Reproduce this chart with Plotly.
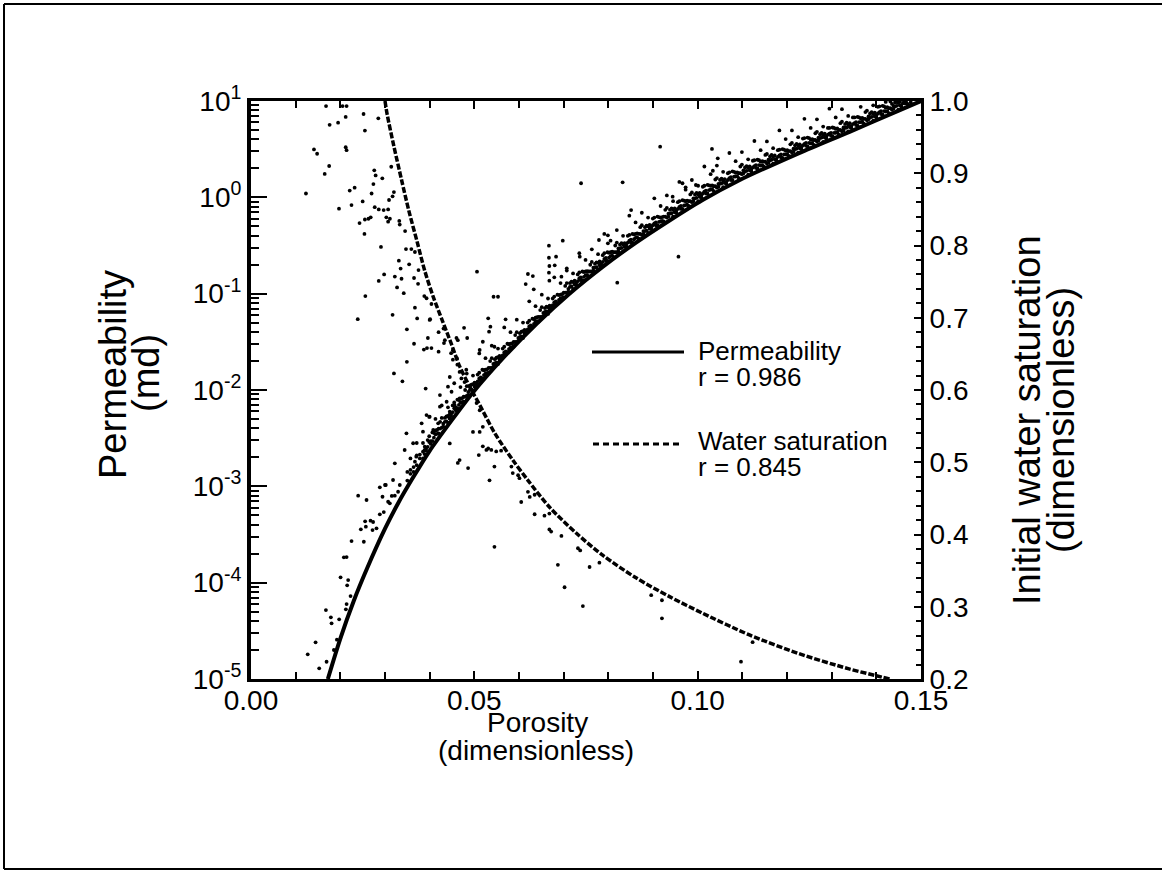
import numpy as np
import plotly.graph_objects as go

# ---------------------------------------------------------------
# Fitted curves
# ---------------------------------------------------------------
perm_fit_phi = [0.0172, 0.0200, 0.0230, 0.0260, 0.0300, 0.0330, 0.0360, 0.0400, 0.0450,
                0.0496, 0.0564, 0.0640, 0.0713, 0.0788, 0.0862, 0.0937, 0.1010, 0.1090,
                0.1227, 0.1340, 0.1450, 0.1500]
perm_fit_k = [1.0e-5, 2.63e-5, 6.46e-5, 1.41e-4, 3.63e-4, 6.76e-4, 1.175e-3, 2.34e-3,
              4.90e-3, 9.33e-3, 0.0214, 0.0490, 0.100, 0.191, 0.339, 0.575, 0.933,
              1.48, 2.88, 4.79, 7.94, 10.0]

sw_fit_phi = [0.0300, 0.0305, 0.0320, 0.0337, 0.0353, 0.0372, 0.0389, 0.0408, 0.0429,
              0.0449, 0.0467, 0.0496, 0.0508, 0.0546, 0.0586, 0.0620, 0.0668, 0.0728,
              0.0788, 0.0862, 0.0937, 0.1011, 0.1116, 0.1227, 0.1339, 0.1400, 0.1430]
sw_fit = [1.000, 0.981, 0.937, 0.891, 0.849, 0.805, 0.765, 0.729, 0.695,
          0.663, 0.633, 0.597, 0.584, 0.540, 0.503, 0.475, 0.438, 0.402,
          0.371, 0.340, 0.314, 0.291, 0.261, 0.235, 0.214, 0.2045, 0.200]

# ---------------------------------------------------------------
# Permeability samples (log10 of md): dense band above the fit
# ---------------------------------------------------------------
band_phi = [0.0350, 0.0357, 0.0364, 0.0371, 0.0378, 0.0385, 0.0392, 0.0399, 0.0406, 0.0413,
            0.0420, 0.0427, 0.0434, 0.0441, 0.0448, 0.0455, 0.0462, 0.0469, 0.0476, 0.0483,
            0.0490, 0.0497, 0.0504, 0.0511, 0.0518, 0.0525, 0.0532, 0.0539, 0.0546, 0.0553,
            0.0560, 0.0567, 0.0574, 0.0581, 0.0588, 0.0595, 0.0602, 0.0609, 0.0616, 0.0623,
            0.0630, 0.0637, 0.0644, 0.0651, 0.0658, 0.0665, 0.0672, 0.0679, 0.0686, 0.0693,
            0.0700, 0.0707, 0.0714, 0.0721, 0.0728, 0.0735, 0.0742, 0.0749, 0.0756, 0.0763,
            0.0770, 0.0777, 0.0784, 0.0791, 0.0798, 0.0805, 0.0812, 0.0819, 0.0826, 0.0833,
            0.0840, 0.0847, 0.0854, 0.0861, 0.0868, 0.0875, 0.0882, 0.0889, 0.0896, 0.0903,
            0.0910, 0.0917, 0.0924, 0.0931, 0.0938, 0.0945, 0.0952, 0.0959, 0.0966, 0.0973,
            0.0980, 0.0987, 0.0994, 0.1001, 0.1008, 0.1015, 0.1022, 0.1029, 0.1036, 0.1043,
            0.1050, 0.1057, 0.1064, 0.1071, 0.1078, 0.1085, 0.1092, 0.1099, 0.1106, 0.1113,
            0.1120, 0.1127, 0.1134, 0.1141, 0.1148, 0.1155, 0.1162, 0.1169, 0.1176, 0.1183,
            0.1190, 0.1197, 0.1204, 0.1211, 0.1218, 0.1225, 0.1232, 0.1239, 0.1246, 0.1253,
            0.1260, 0.1267, 0.1274, 0.1281, 0.1288, 0.1295, 0.1302, 0.1309, 0.1316, 0.1323,
            0.1330, 0.1337, 0.1344, 0.1351, 0.1358, 0.1365, 0.1372, 0.1379, 0.1386, 0.1393,
            0.1400, 0.1407, 0.1414, 0.1421, 0.1428, 0.1435, 0.1442, 0.1449, 0.1456, 0.1463,
            0.1470, 0.1477]
band_log10k = [
    [-2.94, -2.85], [-2.87, -2.83, -2.71], [-2.85, -2.80], [-2.78, -2.68, -2.55],
    [-2.71, -2.67], [-2.71, -2.64, -2.55], [-2.63, -2.61], [-2.54, -2.48, -2.28],
    [-2.53, -2.44], [-2.46, -2.42, -2.30], [-2.45, -2.40], [-2.39, -2.29, -2.16],
    [-2.33, -2.29], [-2.34, -2.27, -2.18], [-2.27, -2.25], [-2.19, -2.13, -1.93],
    [-2.19, -2.10], [-2.13, -2.09, -1.97], [-2.12, -2.07], [-2.06, -1.96, -1.83],
    [-2.00, -1.96], [-2.01, -1.94, -1.85], [-1.95, -1.93], [-1.88, -1.82, -1.62],
    [-1.88, -1.79], [-1.83, -1.79, -1.67], [-1.82, -1.77], [-1.77, -1.67, -1.54],
    [-1.72, -1.68], [-1.73, -1.66, -1.57], [-1.68, -1.66], [-1.61, -1.55, -1.35],
    [-1.61, -1.52], [-1.56, -1.52, -1.40], [-1.55, -1.50], [-1.50, -1.40, -1.27],
    [-1.45, -1.41], [-1.46, -1.39, -1.30], [-1.41, -1.39], [-1.34, -1.28, -1.08],
    [-1.35, -1.26], [-1.29, -1.25, -1.13], [-1.29, -1.24], [-1.24, -1.14, -1.01],
    [-1.19, -1.15], [-1.21, -1.14, -1.05], [-1.16, -1.14], [-1.09, -1.03, -0.83],
    [-1.10, -1.01], [-1.05, -1.01, -0.89], [-1.04, -0.99], [-0.99, -0.89, -0.76],
    [-0.93, -0.89], [-0.95, -0.88, -0.79], [-0.91, -0.89], [-0.84, -0.78, -0.58],
    [-0.86, -0.77], [-0.81, -0.77, -0.65], [-0.82, -0.77], [-0.77, -0.67, -0.54],
    [-0.73, -0.69], [-0.75, -0.68, -0.59], [-0.71, -0.69], [-0.64, -0.58, -0.38],
    [-0.66, -0.57], [-0.61, -0.57, -0.45], [-0.62, -0.57], [-0.57, -0.47, -0.34],
    [-0.53, -0.49], [-0.56, -0.49, -0.40], [-0.51, -0.49], [-0.45, -0.39, -0.19],
    [-0.47, -0.38], [-0.42, -0.38, -0.26], [-0.43, -0.38], [-0.39, -0.29, -0.16],
    [-0.35, -0.31], [-0.37, -0.30, -0.21], [-0.33, -0.31], [-0.27, -0.21, -0.01],
    [-0.29, -0.20], [-0.25, -0.21, -0.09], [-0.25, -0.20], [-0.21, -0.11, 0.02],
    [-0.17, -0.13], [-0.20, -0.13, -0.04], [-0.16, -0.14], [-0.10, -0.04, 0.16],
    [-0.12, -0.03], [-0.08, -0.04, 0.08], [-0.09, -0.04], [-0.05, 0.05, 0.18],
    [-0.01, 0.03], [-0.04, 0.03, 0.12], [0.00, 0.02], [0.06, 0.12, 0.32],
    [0.04, 0.13], [0.08, 0.12, 0.24], [0.065, 0.115], [0.10, 0.20, 0.33],
    [0.14, 0.18], [0.105, 0.175, 0.265], [0.14, 0.16], [0.20, 0.26, 0.46],
    [0.18, 0.27], [0.215, 0.255, 0.375], [0.20, 0.25], [0.24, 0.34, 0.47],
    [0.27, 0.31], [0.235, 0.305, 0.395], [0.27, 0.29], [0.325, 0.385, 0.585],
    [0.30, 0.39], [0.33, 0.37, 0.49], [0.32, 0.37], [0.35, 0.45, 0.58],
    [0.385, 0.425], [0.35, 0.42, 0.51], [0.38, 0.40], [0.435, 0.495, 0.695],
    [0.41, 0.50], [0.445, 0.485, 0.605], [0.43, 0.48], [0.465, 0.565, 0.695],
    [0.50, 0.54], [0.465, 0.535, 0.625], [0.50, 0.52], [0.555, 0.615, 0.815],
    [0.53, 0.62], [0.56, 0.60, 0.72], [0.545, 0.595], [0.58, 0.68, 0.81],
    [0.615, 0.655], [0.575, 0.645, 0.735], [0.61, 0.63], [0.66, 0.72, 0.92],
    [0.635, 0.725], [0.67, 0.71, 0.83], [0.65, 0.70], [0.685, 0.785, 0.915],
    [0.72, 0.76], [0.685, 0.755, 0.845], [0.72, 0.74], [0.77, 0.83],
    [0.745, 0.835], [0.78, 0.82, 0.94], [0.765, 0.815], [0.80, 0.90],
    [0.83, 0.87], [0.795, 0.865, 0.955], [0.83, 0.85], [0.885, 0.945],
    [0.86, 0.95], [0.89, 0.93, 0.99], [0.875, 0.925], [0.91, 0.97],
    [0.945, 0.985], [0.91, 0.98], [0.94, 0.96], [0.975, 0.995],
    [0.97], [0.985],
]

# second, offset set of band columns (fills the ribbon between the first set)
band2_phi = [0.03885, 0.03955, 0.04025, 0.04095, 0.04165, 0.04235, 0.04305, 0.04375,
             0.04445, 0.04515, 0.04585, 0.04655, 0.04725, 0.04795, 0.04865, 0.04935,
             0.05005, 0.05075, 0.05145, 0.05215, 0.05285, 0.05355, 0.05425, 0.05495,
             0.05565, 0.05635, 0.05705, 0.05775, 0.05845, 0.05915, 0.05985, 0.06055,
             0.06125, 0.06195, 0.06265, 0.06335, 0.06405, 0.06475, 0.06545, 0.06615,
             0.06685, 0.06755, 0.06825, 0.06895, 0.06965, 0.07035, 0.07105, 0.07175,
             0.07245, 0.07315, 0.07385, 0.07455, 0.07525, 0.07595, 0.07665, 0.07735,
             0.07805, 0.07875, 0.07945, 0.08015, 0.08085, 0.08155, 0.08225, 0.08295,
             0.08365, 0.08435, 0.08505, 0.08575, 0.08645, 0.08715, 0.08785, 0.08855,
             0.08925, 0.08995, 0.09065, 0.09135, 0.09205, 0.09275, 0.09345, 0.09415,
             0.09485, 0.09555, 0.09625, 0.09695, 0.09765, 0.09835, 0.09905, 0.09975,
             0.10045, 0.10115, 0.10185, 0.10255, 0.10325, 0.10395, 0.10465, 0.10535,
             0.10605, 0.10675, 0.10745, 0.10815, 0.10885, 0.10955, 0.11025, 0.11095,
             0.11165, 0.11235, 0.11305, 0.11375, 0.11445, 0.11515, 0.11585, 0.11655,
             0.11725, 0.11795, 0.11865, 0.11935, 0.12005, 0.12075, 0.12145, 0.12215,
             0.12285, 0.12355, 0.12425, 0.12495, 0.12565, 0.12635, 0.12705, 0.12775,
             0.12845, 0.12915, 0.12985, 0.13055, 0.13125, 0.13195, 0.13265, 0.13335,
             0.13405, 0.13475, 0.13545, 0.13615, 0.13685, 0.13755, 0.13825, 0.13895,
             0.13965, 0.14035, 0.14105, 0.14175, 0.14245, 0.14315, 0.14385, 0.14455,
             0.14525, 0.14595, 0.14665]
band2_log10k = [
    [-2.665, -2.625], [-2.59, -2.52], [-2.56, -2.53], [-2.495, -2.445],
    [-2.455, -2.415], [-2.40, -2.33], [-2.38, -2.35], [-2.325, -2.275],
    [-2.295, -2.255], [-2.23, -2.16], [-2.21, -2.18], [-2.155, -2.105],
    [-2.125, -2.085], [-2.07, -2.00], [-2.05, -2.02], [-1.995, -1.945],
    [-1.965, -1.925], [-1.91, -1.84], [-1.90, -1.87], [-1.845, -1.795],
    [-1.825, -1.785], [-1.77, -1.70], [-1.76, -1.73], [-1.715, -1.665],
    [-1.685, -1.645], [-1.64, -1.57], [-1.63, -1.60], [-1.575, -1.525],
    [-1.555, -1.515], [-1.50, -1.43], [-1.49, -1.46], [-1.445, -1.395],
    [-1.415, -1.375], [-1.37, -1.30], [-1.36, -1.33], [-1.315, -1.265],
    [-1.285, -1.245], [-1.24, -1.17], [-1.23, -1.20], [-1.185, -1.135],
    [-1.165, -1.125], [-1.12, -1.05], [-1.11, -1.08], [-1.065, -1.015],
    [-1.045, -1.005], [-0.99, -0.92], [-0.98, -0.95], [-0.925, -0.875],
    [-0.905, -0.865], [-0.87, -0.80], [-0.86, -0.83], [-0.825, -0.775],
    [-0.805, -0.765], [-0.77, -0.70], [-0.76, -0.73], [-0.725, -0.675],
    [-0.705, -0.665], [-0.67, -0.60], [-0.66, -0.63], [-0.625, -0.575],
    [-0.605, -0.565], [-0.57, -0.50], [-0.56, -0.53], [-0.525, -0.475],
    [-0.515, -0.475], [-0.47, -0.40], [-0.47, -0.44], [-0.435, -0.385],
    [-0.415, -0.375], [-0.38, -0.31], [-0.38, -0.35], [-0.345, -0.295],
    [-0.325, -0.285], [-0.29, -0.22], [-0.29, -0.26], [-0.255, -0.205],
    [-0.245, -0.205], [-0.20, -0.13], [-0.20, -0.17], [-0.165, -0.115],
    [-0.155, -0.115], [-0.12, -0.05], [-0.12, -0.09], [-0.085, -0.035],
    [-0.075, -0.035], [-0.04, 0.03], [-0.04, -0.01], [-0.005, 0.045],
    [0.005, 0.045], [0.04, 0.11], [0.04, 0.07], [0.075, 0.125],
    [0.085, 0.125], [0.115, 0.185], [0.11, 0.14], [0.145, 0.195],
    [0.15, 0.19], [0.18, 0.25], [0.18, 0.21], [0.215, 0.265],
    [0.22, 0.26], [0.25, 0.32], [0.25, 0.28], [0.275, 0.325],
    [0.28, 0.32], [0.31, 0.38], [0.305, 0.335], [0.335, 0.385],
    [0.335, 0.375], [0.37, 0.44], [0.36, 0.39], [0.39, 0.44],
    [0.395, 0.435], [0.42, 0.49], [0.415, 0.445], [0.445, 0.495],
    [0.45, 0.49], [0.48, 0.55], [0.475, 0.505], [0.505, 0.555],
    [0.51, 0.55], [0.54, 0.61], [0.535, 0.565], [0.565, 0.615],
    [0.565, 0.605], [0.595, 0.665], [0.59, 0.62], [0.62, 0.67],
    [0.62, 0.66], [0.65, 0.72], [0.64, 0.67], [0.67, 0.72],
    [0.675, 0.715], [0.70, 0.77], [0.695, 0.725], [0.725, 0.775],
    [0.73, 0.77], [0.76, 0.83], [0.75, 0.78], [0.78, 0.83],
    [0.785, 0.825], [0.815, 0.885], [0.81, 0.84], [0.835, 0.885],
    [0.84, 0.88], [0.87, 0.94], [0.865, 0.895], [0.895, 0.945],
    [0.895, 0.935], [0.925, 0.995], [0.92, 0.95], [0.95, 0.99],
    [0.955, 0.995], [0.98], [0.975, 0.99],
]

# Permeability samples away from the band (low porosity and outliers)
perm_phi_extra = [0.0127, 0.01446, 0.01527, 0.01692, 0.01677, 0.01788, 0.01804, 0.01974,
                  0.01923, 0.01856, 0.02005, 0.02175, 0.02153, 0.02229, 0.0214, 0.02124,
                  0.02079, 0.0214, 0.02251, 0.02399, 0.02587, 0.02526, 0.02459, 0.02555,
                  0.02676, 0.02734, 0.02571, 0.02721, 0.0281, 0.02884, 0.02973, 0.02884,
                  0.03018, 0.02944, 0.03152, 0.0307, 0.03108, 0.03331, 0.03293, 0.03219,
                  0.0300, 0.0318, 0.0322, 0.0344, 0.0348, 0.0363, 0.0367, 0.0370, 0.0382,
                  0.0385, 0.0393, 0.0400, 0.0389, 0.0408, 0.0419, 0.0423, 0.0438, 0.0445,
                  0.0449, 0.0441, 0.0456, 0.0467, 0.0512, 0.0545,
                  0.0916, 0.0739, 0.0832, 0.0851, 0.1032, 0.1045, 0.1034, 0.0506, 0.0543,
                  0.0553, 0.0667, 0.0698, 0.0667, 0.0683, 0.0620, 0.0631, 0.0615, 0.0633,
                  0.0668, 0.0680, 0.0667, 0.0668, 0.0779, 0.0799, 0.0799, 0.0957, 0.0820,
                  0.0531, 0.0536, 0.0533, 0.0570, 0.0519, 0.0707, 0.0695, 0.0736, 0.0966,
                  0.0973, 0.0996, 0.0944]
perm_log10k_extra = [-4.744, -4.619, -4.889, -4.821, -4.284, -4.36, -4.422, -4.381,
                     -4.592, -4.699, -3.945, -3.973, -4.028, -4.139, -4.222, -4.277,
                     -3.737, -3.734, -3.568, -3.097, -3.142, -3.575, -3.446, -3.363,
                     -3.357, -3.37, -3.419, -3.454, -3.436, -3.291, -3.267, -3.01,
                     -2.986, -3.108, -3.1, -3.16, -3.176, -2.986, -3.056, -3.097,
                     -2.986, -2.934, -2.761, -2.623, -2.450, -2.553, -2.744, -2.692, -2.346,
                     -2.433, -2.260, -2.277, -2.589, -2.415, -2.346, -2.173, -2.122, -2.225,
                     -2.018, -1.966, -2.156, -2.086, -1.585, -1.551,
                     0.526, 0.146, 0.156, -0.132, 0.502, 0.405, 0.276, -0.772, -1.032,
                     -1.032, -0.502, -0.450, -0.627, -0.616, -0.796, -0.817, -0.900, -0.955,
                     -0.713, -0.706, -0.782, -0.865, -0.443, -0.394, -0.477, -0.616, -0.886,
                     -1.256, -1.343, -1.395, -1.266, -1.499, -0.737, -0.824, -0.616, 0.146,
                     0.104, 0.128, 0.007]

# ---------------------------------------------------------------
# Initial water saturation samples
# ---------------------------------------------------------------
sw_phi = [0.0168, 0.0205, 0.0214, 0.0212, 0.0176, 0.0195, 0.0252, 0.0285, 0.0255, 0.0141,
          0.0148, 0.0212, 0.0214, 0.0175, 0.0165, 0.0314, 0.0276, 0.0279, 0.0294, 0.0274,
          0.0221, 0.0232, 0.0123, 0.0270, 0.0320, 0.0317, 0.0309, 0.0250, 0.0225, 0.0197,
          0.0277, 0.0286, 0.0297, 0.0307, 0.0243, 0.0255, 0.0263, 0.0268, 0.0303, 0.0311,
          0.0307, 0.0332, 0.0333, 0.0254, 0.0345, 0.0291, 0.0347, 0.0359, 0.0367, 0.0331,
          0.0335, 0.0354, 0.0375, 0.0298, 0.0286, 0.0322, 0.0337, 0.0365, 0.0374, 0.0327,
          0.0342, 0.0256, 0.0388, 0.0393, 0.0404, 0.0367, 0.0372, 0.0317, 0.0239, 0.0349,
          0.0401, 0.0420, 0.0431, 0.0460, 0.0484, 0.0477, 0.0365, 0.0387, 0.0394, 0.0404,
          0.0420, 0.0432, 0.0448, 0.0452, 0.0461, 0.0349, 0.0320, 0.0339, 0.0391, 0.0445,
          0.0467, 0.0423, 0.0462, 0.0471, 0.0482, 0.0478, 0.0434, 0.0452, 0.0463, 0.0400,
          0.0396,
          0.0505, 0.0512, 0.0497, 0.0512, 0.0519, 0.0527, 0.0534, 0.0467, 0.0463, 0.0486,
          0.0445, 0.0545, 0.0519, 0.0531, 0.0538, 0.0549, 0.0560, 0.0510, 0.0583, 0.0586,
          0.0598, 0.0601, 0.0620, 0.0624, 0.0635, 0.0605, 0.0635, 0.0657, 0.0668, 0.0668,
          0.0672, 0.0695, 0.0545, 0.0732, 0.0737, 0.0687, 0.0702, 0.0758, 0.0780, 0.0743,
          0.0896, 0.0920, 0.0920, 0.1123, 0.1097]
sw_val = [0.993, 0.993, 0.993, 0.978, 0.967, 0.970, 0.982, 0.976, 0.959, 0.933,
          0.927, 0.936, 0.932, 0.910, 0.899, 0.909, 0.904, 0.897, 0.893, 0.885,
          0.876, 0.880, 0.872, 0.872, 0.874, 0.868, 0.863, 0.861, 0.856, 0.851,
          0.853, 0.850, 0.849, 0.850, 0.831, 0.836, 0.837, 0.839, 0.839, 0.837,
          0.833, 0.834, 0.829, 0.816, 0.820, 0.798, 0.795, 0.795, 0.791, 0.779,
          0.768, 0.774, 0.766, 0.760, 0.751, 0.757, 0.754, 0.755, 0.747, 0.742,
          0.734, 0.730, 0.730, 0.727, 0.719, 0.714, 0.699, 0.704, 0.698, 0.684,
          0.698, 0.680, 0.685, 0.672, 0.672, 0.686, 0.664, 0.656, 0.658, 0.658,
          0.653, 0.665, 0.651, 0.642, 0.644, 0.639, 0.623, 0.612, 0.602, 0.618,
          0.625, 0.593, 0.635, 0.616, 0.628, 0.611, 0.669, 0.655, 0.669, 0.697,
          0.672,
          0.582, 0.572, 0.542, 0.542, 0.522, 0.517, 0.475, 0.503, 0.499, 0.492,
          0.526, 0.494, 0.549, 0.519, 0.517, 0.515, 0.516, 0.510, 0.494, 0.485,
          0.482, 0.478, 0.459, 0.452, 0.455, 0.445, 0.428, 0.426, 0.429, 0.407,
          0.404, 0.398, 0.383, 0.381, 0.378, 0.358, 0.327, 0.355, 0.361, 0.301,
          0.316, 0.309, 0.284, 0.251, 0.224]

# ---------------------------------------------------------------
# Axis tick labels
# ---------------------------------------------------------------
phi_tick_vals = [0.0, 0.05, 0.10, 0.15]
phi_tick_text = ["0.00", "0.05", "0.10", "0.15"]
k_tick_vals = [1e-5, 1e-4, 1e-3, 1e-2, 1e-1, 1e0, 1e1]
k_tick_text = ["10<sup>-5</sup>", "10<sup>-4</sup>", "10<sup>-3</sup>", "10<sup>-2</sup>",
               "10<sup>-1</sup>", "10<sup>0</sup>", "10<sup>1</sup>"]
sw_tick_vals = [0.2, 0.3, 0.4, 0.5, 0.6, 0.7, 0.8, 0.9, 1.0]
sw_tick_text = ["0.2", "0.3", "0.4", "0.5", "0.6", "0.7", "0.8", "0.9", "1.0"]

# flatten the band columns into one sample list
perm_phi = []
perm_k = []
for cols_phi, cols_val in ((band_phi, band_log10k), (band2_phi, band2_log10k)):
    for p, col in zip(cols_phi, cols_val):
        for v in col:
            perm_phi.append(p)
            perm_k.append(10 ** v)
perm_phi += perm_phi_extra
perm_k += [10 ** v for v in perm_log10k_extra]

FONT = "Liberation Sans"
INK = "black"

fig = go.Figure()

fig.add_trace(go.Scatter(x=perm_phi, y=perm_k, mode="markers",
                         marker=dict(size=3.8, color=INK), yaxis="y",
                         showlegend=False, hoverinfo="skip"))
fig.add_trace(go.Scatter(x=sw_phi, y=sw_val, mode="markers",
                         marker=dict(size=3.8, color=INK), yaxis="y2",
                         showlegend=False, hoverinfo="skip"))
fig.add_trace(go.Scatter(x=perm_fit_phi, y=perm_fit_k, mode="lines",
                         line=dict(color=INK, width=4, shape="spline", smoothing=0.8),
                         yaxis="y", showlegend=False, hoverinfo="skip"))
fig.add_trace(go.Scatter(x=sw_fit_phi, y=sw_fit, mode="lines",
                         line=dict(color=INK, width=3.5, dash="6px,2px",
                                   shape="spline", smoothing=0.8),
                         yaxis="y2", showlegend=False, hoverinfo="skip"))

W, H = 1162, 871
L, R, T, B = 251, 241, 101, 192
PW, PH = W - L - R, H - T - B


def px(xp):
    return (xp - L) / PW


def py(yp):
    return (H - B - yp) / PH


annotations = []


def label(text, xp, yp, size, xanchor="center", angle=0):
    annotations.append(dict(text=text, x=px(xp), y=py(yp), xref="paper", yref="paper",
                            xanchor=xanchor, yanchor="middle", showarrow=False,
                            textangle=angle, font=dict(family=FONT, size=size, color=INK)))


# axis titles
label("Porosity", 537, 722, 28)
label("(dimensionless)", 536, 750, 28)
label("Permeability", 113, 375, 38, angle=-90)
label("(md)", 146, 373, 38, angle=-90)
label("Initial water saturation", 1027, 420, 38, angle=-90)
label("(dimensionless)", 1061, 420, 38, angle=-90)

# legend text
label("Permeability", 696, 351, 26, xanchor="left")
label("r = 0.986", 696, 377, 26, xanchor="left")
label("Water saturation", 696, 441, 26, xanchor="left")
label("r = 0.845", 696, 467, 26, xanchor="left")

shapes = [
    # legend keys
    dict(type="line", xref="paper", yref="paper", x0=px(592), x1=px(684),
         y0=py(352), y1=py(352), line=dict(color=INK, width=3)),
    dict(type="line", xref="paper", yref="paper", x0=px(593), x1=px(683),
         y0=py(444), y1=py(444), line=dict(color=INK, width=3, dash="6px,4px")),
    # page frame
    dict(type="line", xref="paper", yref="paper", x0=px(4), x1=px(1162),
         y0=py(4), y1=py(4), line=dict(color=INK, width=2)),
    dict(type="line", xref="paper", yref="paper", x0=px(4), x1=px(4),
         y0=py(4), y1=py(869), line=dict(color=INK, width=2)),
    dict(type="line", xref="paper", yref="paper", x0=px(4), x1=px(1162),
         y0=py(869), y1=py(869), line=dict(color=INK, width=2)),
]

tick_font = dict(family=FONT, size=28, color=INK)

fig.update_layout(
    width=W, height=H,
    margin=dict(l=L, r=R, t=T, b=B, pad=0),
    paper_bgcolor="white", plot_bgcolor="white",
    showlegend=False,
    annotations=annotations,
    shapes=shapes,
    xaxis=dict(range=[0, 0.15], tickvals=phi_tick_vals, ticktext=phi_tick_text,
               ticks="inside", ticklen=8, tickwidth=1.5, tickcolor=INK,
               showline=True, linewidth=3, linecolor=INK, mirror="ticks",
               showgrid=False, zeroline=False, tickfont=tick_font,
               ticklabelstandoff=-6,
               minor=dict(dtick=0.01, ticks="inside", ticklen=7, tickwidth=1.5,
                          tickcolor=INK, showgrid=False)),
    yaxis=dict(type="log", range=[-5, 1], tickvals=k_tick_vals, ticktext=k_tick_text,
               ticks="inside", ticklen=16, tickwidth=2, tickcolor=INK,
               showline=True, linewidth=4, linecolor=INK, mirror=False,
               showgrid=False, zeroline=False, tickfont=tick_font,
               minor=dict(dtick="D1", ticks="inside", ticklen=8, tickwidth=1.5,
                          tickcolor=INK, showgrid=False)),
    yaxis2=dict(range=[0.2, 1.0], overlaying="y", side="right",
                tickvals=sw_tick_vals, ticktext=sw_tick_text,
                ticks="inside", ticklen=7, tickwidth=2, tickcolor=INK,
                showline=True, linewidth=3, linecolor=INK,
                showgrid=False, zeroline=False, tickfont=tick_font,
                minor=dict(dtick=0.02, tick0=0.2, ticks="inside", ticklen=5, tickwidth=1.5,
                           tickcolor=INK, showgrid=False)),
)

fig.write_html("out.html")
